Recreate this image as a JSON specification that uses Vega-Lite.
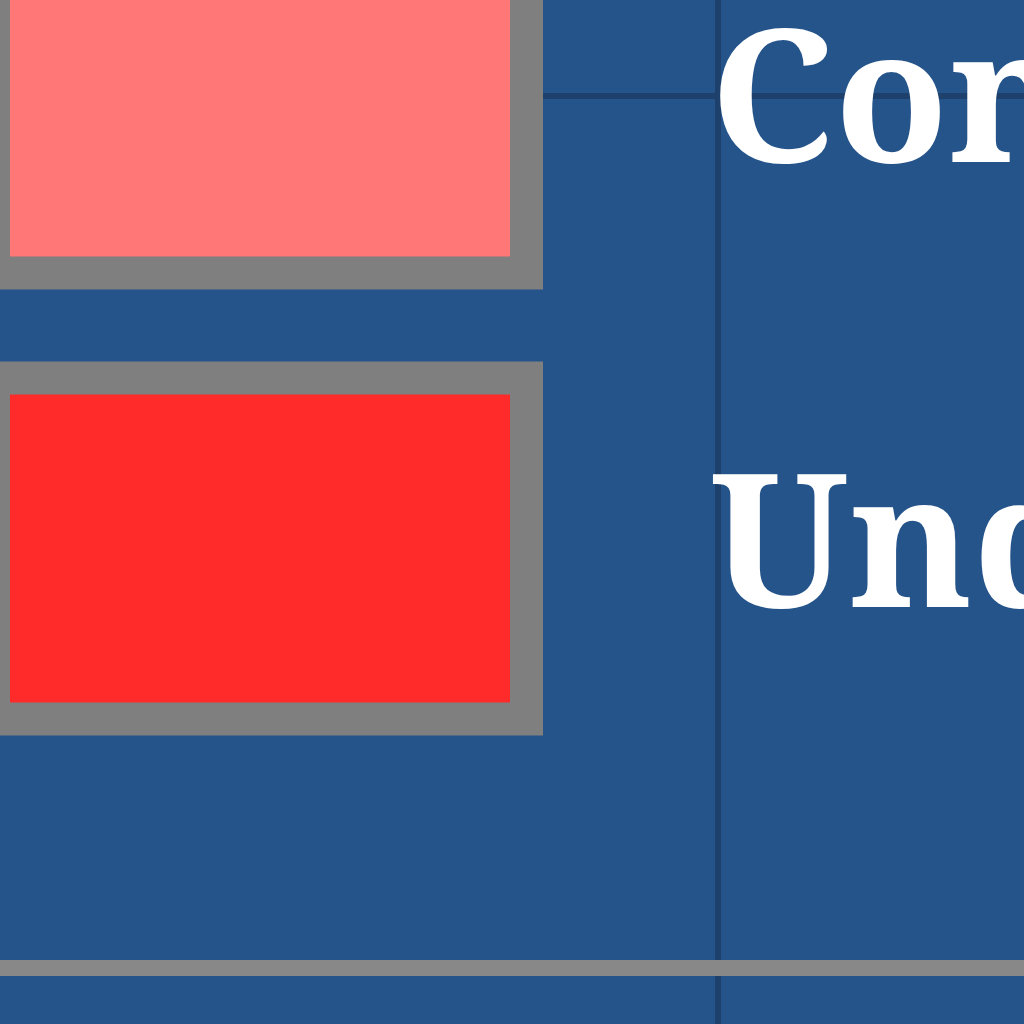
{
  "$schema": "https://vega.github.io/schema/vega-lite/v6.json",
  "width": 1024, "height": 1024,
  "autosize": {"type": "fit", "contains": "padding"},
  "padding": 0,
  "background": "#25548a",
  "config": {
    "view": {"stroke": null, "fill": "#25548a"},
    "font": "Noto Serif"
  },
  "datasets": {
    "items": [
      {"item": "Conservative", "x0": -6.5, "x1": 526.5, "y0": -68, "y1": 273, "tx": 710, "ty": 162},
      {"item": "Undecided", "x0": -6.5, "x1": 526.5, "y0": 378, "y1": 719, "tx": 710, "ty": 607}
    ],
    "gridx": [{"gx": 718}],
    "gridy": [{"gy": 96}],
    "base": [{"by": 968}]
  },
  "layer": [
    {
      "data": {"name": "gridx"},
      "mark": {"type": "rule", "color": "#1d416c", "strokeWidth": 6, "clip": true},
      "encoding": {
        "x": {"field": "gx", "type": "quantitative", "scale": {"domain": [0, 1024]}, "axis": null}
      }
    },
    {
      "data": {"name": "gridy"},
      "mark": {"type": "rule", "color": "#1d416c", "strokeWidth": 6, "clip": true},
      "encoding": {
        "y": {"field": "gy", "type": "quantitative", "scale": {"domain": [0, 1024], "reverse": true}, "axis": null}
      }
    },
    {
      "data": {"name": "items"},
      "mark": {"type": "rect", "stroke": "#7f7f7f", "strokeWidth": 33, "clip": true},
      "encoding": {
        "x": {"field": "x0", "type": "quantitative", "scale": {"domain": [0, 1024]}, "axis": null},
        "x2": {"field": "x1"},
        "y": {"field": "y0", "type": "quantitative", "scale": {"domain": [0, 1024], "reverse": true}, "axis": null},
        "y2": {"field": "y1"},
        "fill": {
          "field": "item", "type": "nominal",
          "scale": {"domain": ["Conservative", "Undecided"], "range": ["#ff7777", "#ff2b2b"]},
          "legend": null
        }
      }
    },
    {
      "data": {"name": "items"},
      "mark": {"type": "text", "align": "left", "baseline": "alphabetic", "fontSize": 186, "fontWeight": "bold", "color": "white", "clip": true},
      "encoding": {
        "x": {"field": "tx", "type": "quantitative", "scale": {"domain": [0, 1024]}, "axis": null},
        "y": {"field": "ty", "type": "quantitative", "scale": {"domain": [0, 1024], "reverse": true}, "axis": null},
        "text": {"field": "item"}
      }
    },
    {
      "data": {"name": "base"},
      "mark": {"type": "rule", "color": "#888888", "strokeWidth": 16, "clip": true},
      "encoding": {
        "y": {"field": "by", "type": "quantitative", "scale": {"domain": [0, 1024], "reverse": true}, "axis": null}
      }
    }
  ]
}
